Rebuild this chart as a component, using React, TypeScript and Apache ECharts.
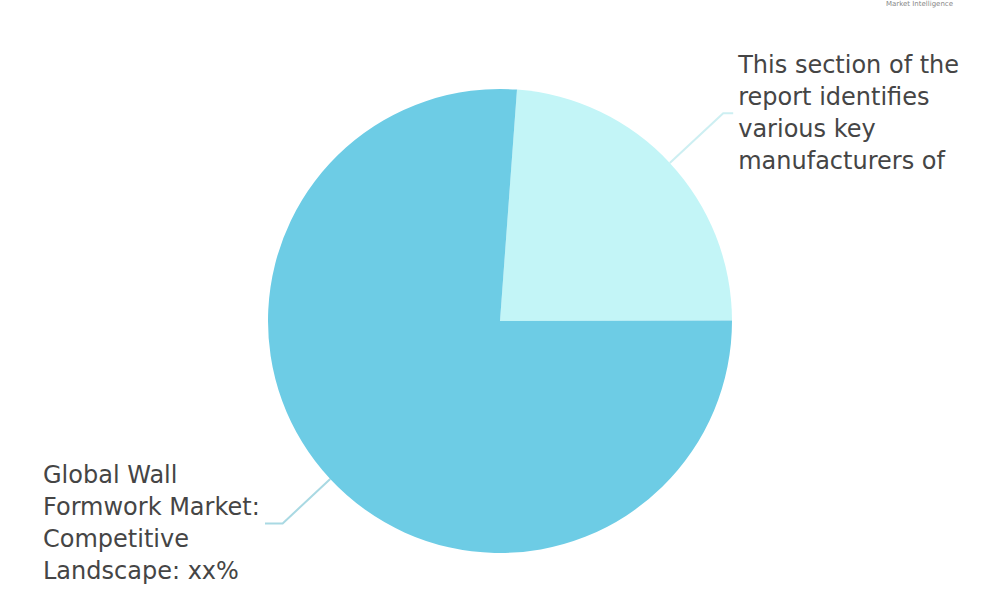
import React, { useEffect, useRef } from "react";
import * as echarts from "echarts";

const sliceNames = ["Key Manufacturers", "Competitive Landscape"];
const sliceValues = [23.8, 76.2];
const sliceColors = ["#C3F5F7", "#6DCCE5"];
const sliceLabels = [
  "This section of the\nreport identifies\nvarious key\nmanufacturers of",
  "Global Wall\nFormwork Market:\nCompetitive\nLandscape: xx%",
];
const logoText = "Market Intelligence";

export default function App() {
  const ref = useRef<HTMLDivElement>(null);
  useEffect(() => {
    if (!ref.current) return;
    const chart = echarts.init(ref.current, undefined, { renderer: "svg" });
    const labelCommon = {
      color: "#454545",
      fontFamily: "DejaVu Sans",
      fontSize: 24,
      lineHeight: 32,
    };
    chart.setOption({
      animation: false,
      backgroundColor: "#ffffff",
      graphic: [
        {
          type: "text",
          left: 886,
          top: 0,
          style: { text: logoText, fontSize: 7, fill: "#888", fontFamily: "DejaVu Sans" },
        },
      ],
      series: [
        {
          type: "pie",
          center: [500, 321],
          radius: 232,
          startAngle: 85.8,
          clockwise: true,
          data: sliceNames.map((n, i) => ({
            name: n,
            value: sliceValues[i],
            itemStyle: { color: sliceColors[i] },
            label:
              i === 0
                ? { ...labelCommon, formatter: () => sliceLabels[i], alignTo: "none", distanceToLabelLine: 5 }
                : {
                    ...labelCommon,
                    formatter: () => sliceLabels[i],
                    alignTo: "edge",
                    edgeDistance: 43,
                    distanceToLabelLine: 2,
                    width: 220,
                    overflow: "none",
                  },
            labelLine:
              i === 0
                ? { length: 73, length2: 10, lineStyle: { color: "#cdeff2", width: 2 } }
                : { length: 65, length2: 10, lineStyle: { color: "#a9d9e3", width: 2 } },
          })),
          label: { show: true, position: "outside" },
          labelLine: { show: true, smooth: false },
          emphasis: { disabled: true },
        },
      ],
    });
    return () => chart.dispose();
  }, []);
  return (
    <div
      ref={ref}
      style={{ position: "fixed", left: 0, top: 0, width: 1000, height: 600 }}
    />
  );
}
